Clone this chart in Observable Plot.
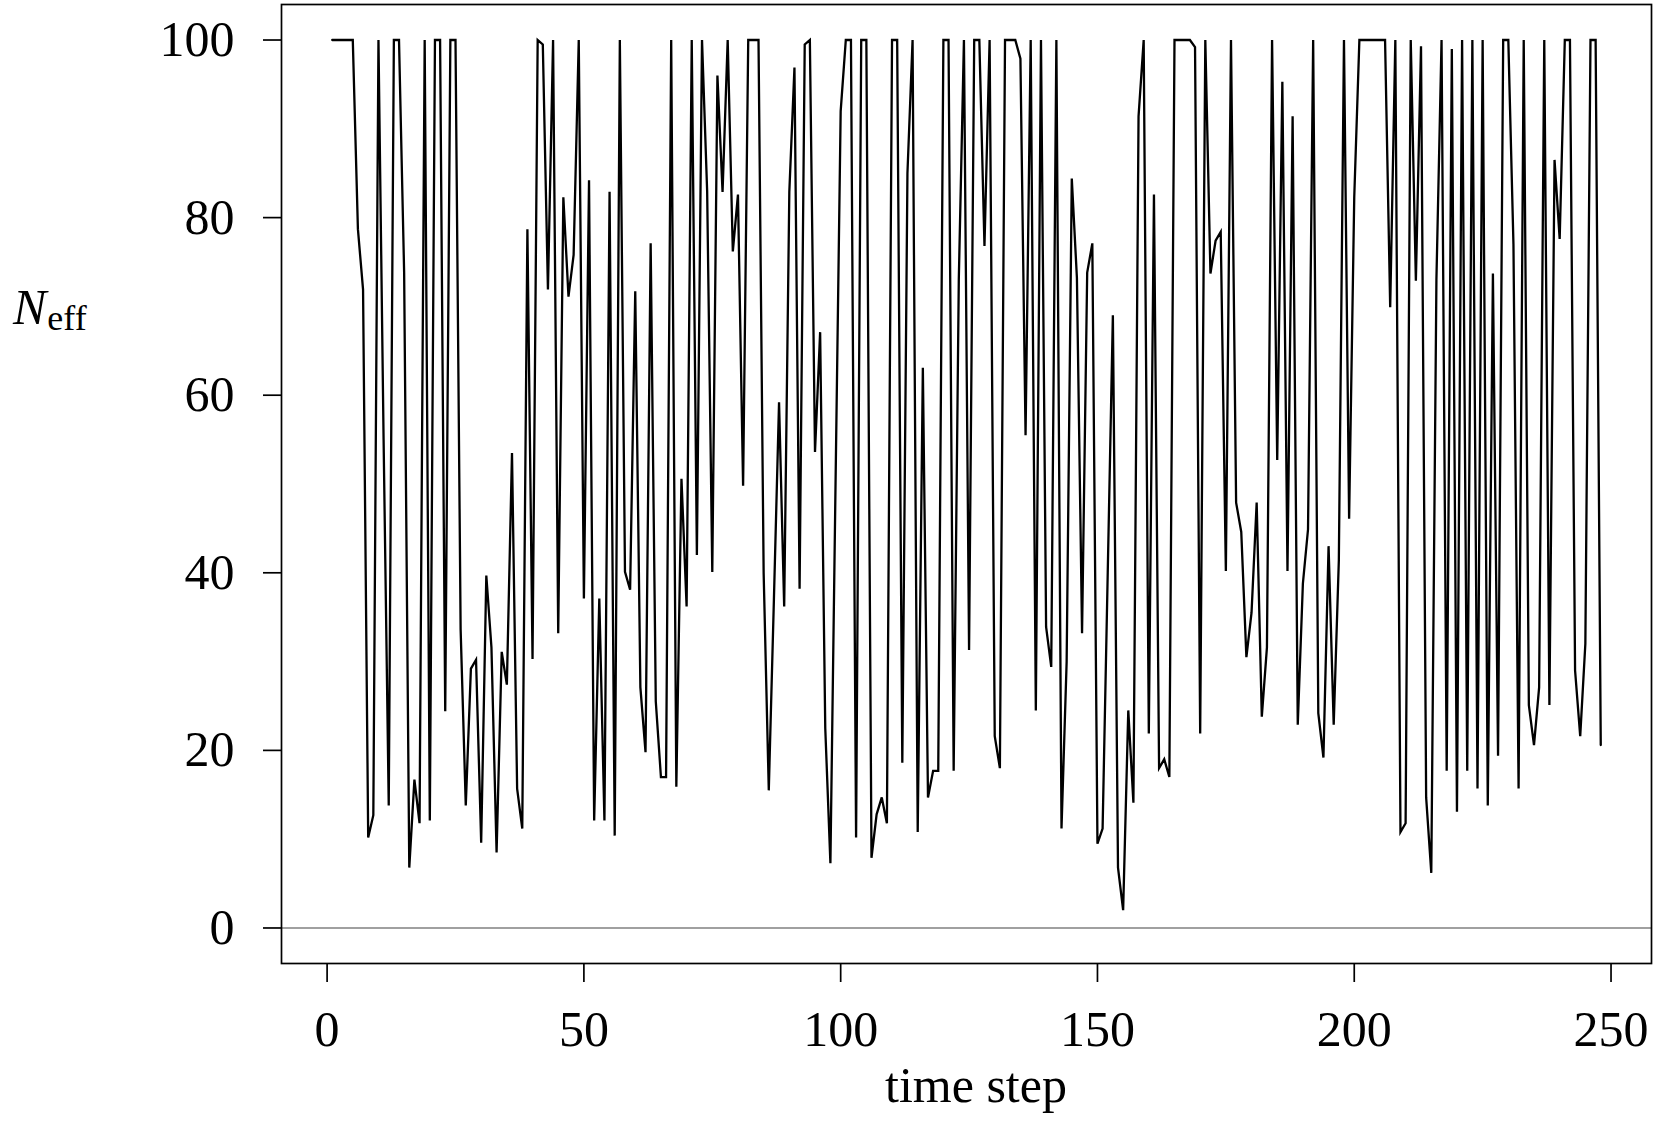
<!DOCTYPE html>
<html>
<head>
<meta charset="utf-8">
<script src="https://cdn.jsdelivr.net/npm/d3@7"></script>
<script src="https://cdn.jsdelivr.net/npm/@observablehq/plot@0.6"></script>
<style>
  html, body { margin: 0; padding: 0; background: white; }
  #chart { position: relative; width: 1665px; height: 1123px; }
</style>
</head>
<body>
<div id="chart"></div>
<script>
// N_eff at each time step (time steps 1..248)
const neff = [
  100, 100, 100, 100, 100, 78.7, 71.9, 10.2, 12.7, 100,
  55, 13.8, 100, 100, 73.8, 6.8, 16.7, 11.8, 100, 12.1,
  100, 100, 24.4, 100, 100, 33.6, 13.8, 29.2, 30.2, 9.6,
  39.7, 31.6, 8.5, 31.1, 27.4, 53.5, 15.7, 11.2, 78.7, 30.3,
  100, 99.5, 71.9, 100, 33.2, 82.3, 71.1, 75.8, 100, 37.1,
  84.2, 12.1, 37.1, 12.1, 82.9, 10.4, 100, 40.1, 38.1, 71.7,
  27.1, 19.8, 77.1, 25.5, 17.0, 17.0, 100, 15.9, 50.6, 36.2,
  100, 42.0, 100, 83, 40.1, 96.0, 82.9, 100, 76.2, 82.6,
  49.8, 100, 100, 100, 40, 15.5, 37, 59.2, 36.2, 82.9,
  96.9, 38.2, 99.5, 100, 53.6, 67.1, 22.5, 7.3, 50, 92.0,
  100, 100, 10.2, 100, 100, 7.9, 12.8, 14.7, 11.8, 100,
  100, 18.6, 85, 100, 10.8, 63.1, 14.7, 17.7, 17.7, 100,
  100, 17.7, 73, 100, 31.3, 100, 100, 76.8, 100, 21.6,
  18.0, 100, 100, 100, 97.9, 55.5, 100, 24.5, 100, 33.9,
  29.4, 100, 11.2, 30, 84.4, 73.2, 33.2, 73.8, 77.1, 9.5,
  11.2, 40, 69.0, 6.8, 2.0, 24.5, 14.1, 91.4, 100, 21.9,
  82.6, 18.0, 19.0, 17.0, 100, 100, 100, 100, 99.2, 21.9,
  100, 73.7, 77.4, 78.4, 40.2, 100, 47.9, 44.6, 30.5, 35.5,
  47.9, 23.8, 31.6, 100, 52.7, 95.3, 40.2, 91.4, 22.9, 38.8,
  44.9, 100, 24.2, 19.2, 43.0, 22.9, 41.4, 100, 46.1, 82.3,
  100, 100, 100, 100, 100, 100, 69.9, 100, 10.8, 11.8,
  100, 72.9, 99.3, 14.7, 6.2, 73, 100, 17.7, 99.0, 13.1,
  100, 17.7, 100, 15.7, 100, 13.8, 73.7, 19.4, 100, 100,
  77, 15.7, 100, 25.1, 20.6, 27.1, 100, 25.1, 86.5, 77.6,
  100, 100, 29.0, 21.6, 32.0, 100, 100, 20.6
];
const firstStep = 1;
const xTicks = [0, 50, 100, 150, 200, 250];
const yTicks = [0, 20, 40, 60, 80, 100];
const xLabel = "time step";
const yLabelMain = "N";
const yLabelSub = "eff";

const data = neff.map((v, i) => ({t: firstStep + i, v}));

const W = 1665, H = 1123;
const mL = 281, mR = 14, mT = 4, mB = 160;
const serif = "'Liberation Serif', 'Times New Roman', serif";

const svg = Plot.plot({
  width: W, height: H,
  marginLeft: mL, marginRight: mR, marginTop: mT, marginBottom: mB,
  style: {fontFamily: serif, fontSize: "50px", background: "white", color: "black", overflow: "visible"},
  x: {domain: [-8.88, 257.88]},
  y: {domain: [-4, 104]},
  marks: [
    Plot.ruleY([0], {stroke: "#808080", strokeWidth: 1.6}),
    Plot.line(data, {x: "t", y: "v", stroke: "black", strokeWidth: 2.3, strokeLinejoin: "miter", strokeMiterlimit: 4}),
    Plot.frame({stroke: "black", strokeWidth: 1.7}),
    Plot.axisX({ticks: xTicks, tickSize: 19, tickPadding: 28, fontSize: 50, label: null, strokeWidth: 1.7}),
    Plot.axisY({ticks: yTicks, tickSize: 18, tickPadding: 29, fontSize: 50, label: null, strokeWidth: 1.7})
  ]
});

const s = d3.select(svg);
// x-axis title
s.append("text")
  .attr("x", (mL + (W - mR)) / 2 + 10)
  .attr("y", 1102)
  .attr("text-anchor", "middle")
  .style("font-family", serif)
  .style("font-size", "50px")
  .attr("fill", "black")
  .text(xLabel);
// y-axis title N_eff
const yl = s.append("text")
  .attr("x", 13)
  .attr("y", 324)
  .attr("text-anchor", "start")
  .style("text-anchor", "start")
  .style("font-family", serif)
  .attr("fill", "black");
yl.append("tspan").style("font-style", "italic").style("font-size", "50px").text(yLabelMain);
yl.append("tspan").attr("dy", 6).attr("dx", 1).style("font-size", "36px").text(yLabelSub);

document.getElementById("chart").appendChild(svg);
</script>
</body>
</html>
